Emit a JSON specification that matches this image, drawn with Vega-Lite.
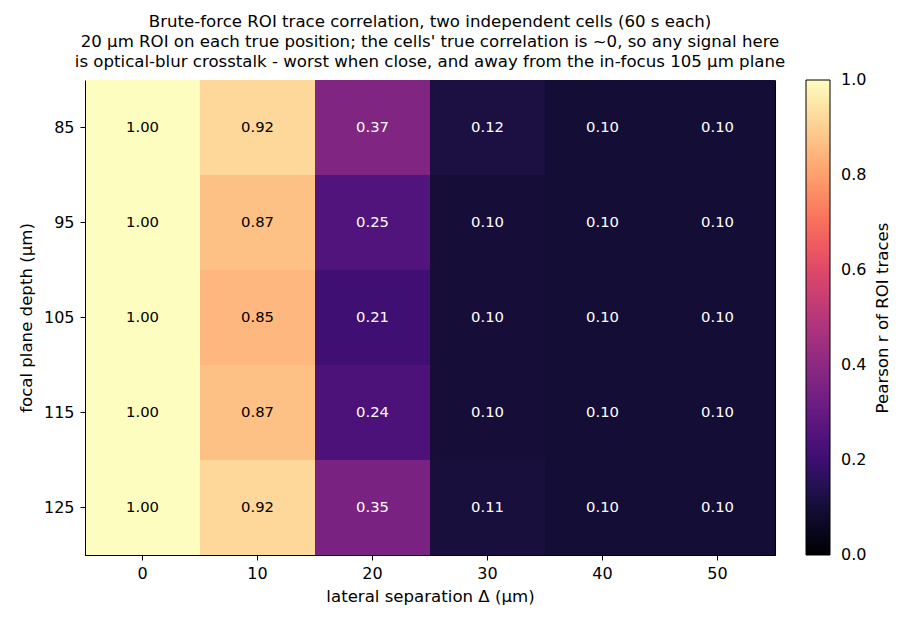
{
  "$schema": "https://vega.github.io/schema/vega-lite/v6.json",
  "width": 690,
  "height": 475,
  "autosize": {"type": "none"},
  "padding": {"left": 85, "top": 80, "right": 137, "bottom": 69},
  "background": "white",
  "config": {
    "font": "DejaVu Sans",
    "view": {"stroke": "black", "strokeWidth": 1},
    "axis": {
      "labelFont": "DejaVu Sans", "titleFont": "DejaVu Sans",
      "labelFontSize": 16, "titleFontSize": 16.6, "titleFontWeight": "normal",
      "labelColor": "black", "titleColor": "black",
      "domainColor": "black", "tickColor": "black", "tickSize": 5, "grid": false
    }
  },
  "title": {
    "text": [
      "Brute-force ROI trace correlation, two independent cells (60 s each)",
      "20 µm ROI on each true position; the cells' true correlation is ~0, so any signal here",
      "is optical-blur crosstalk - worst when close, and away from the in-focus 105 µm plane"
    ],
    "font": "DejaVu Sans",
    "fontSize": 16.6,
    "fontWeight": "normal",
    "color": "black",
    "lineHeight": 20,
    "anchor": "middle",
    "offset": 9
  },
  "data": {
    "values": [
      {"dx": 0, "depth": 85, "r": 1.00}, {"dx": 10, "depth": 85, "r": 0.92}, {"dx": 20, "depth": 85, "r": 0.37}, {"dx": 30, "depth": 85, "r": 0.12}, {"dx": 40, "depth": 85, "r": 0.098}, {"dx": 50, "depth": 85, "r": 0.098},
      {"dx": 0, "depth": 95, "r": 1.00}, {"dx": 10, "depth": 95, "r": 0.87}, {"dx": 20, "depth": 95, "r": 0.25}, {"dx": 30, "depth": 95, "r": 0.104}, {"dx": 40, "depth": 95, "r": 0.098}, {"dx": 50, "depth": 95, "r": 0.098},
      {"dx": 0, "depth": 105, "r": 1.00}, {"dx": 10, "depth": 105, "r": 0.85}, {"dx": 20, "depth": 105, "r": 0.21}, {"dx": 30, "depth": 105, "r": 0.104}, {"dx": 40, "depth": 105, "r": 0.098}, {"dx": 50, "depth": 105, "r": 0.098},
      {"dx": 0, "depth": 115, "r": 1.00}, {"dx": 10, "depth": 115, "r": 0.87}, {"dx": 20, "depth": 115, "r": 0.24}, {"dx": 30, "depth": 115, "r": 0.104}, {"dx": 40, "depth": 115, "r": 0.098}, {"dx": 50, "depth": 115, "r": 0.098},
      {"dx": 0, "depth": 125, "r": 1.00}, {"dx": 10, "depth": 125, "r": 0.92}, {"dx": 20, "depth": 125, "r": 0.35}, {"dx": 30, "depth": 125, "r": 0.11}, {"dx": 40, "depth": 125, "r": 0.098}, {"dx": 50, "depth": 125, "r": 0.098}
    ]
  },
  "encoding": {
    "x": {
      "field": "dx", "type": "ordinal",
      "scale": {"paddingInner": 0, "paddingOuter": 0},
      "axis": {"title": "lateral separation Δ (µm)", "labelAngle": 0, "labelPadding": 5, "titlePadding": 7}
    }
  },
  "layer": [
    {
      "mark": {"type": "rect"},
      "encoding": {
        "y": {
          "field": "depth", "type": "ordinal",
          "scale": {"paddingInner": 0, "paddingOuter": 0},
          "axis": {"title": "focal plane depth (µm)", "labelPadding": 6, "titlePadding": 9}
        },
        "color": {
          "field": "r", "type": "quantitative",
          "scale": {"scheme": "magma", "domain": [0, 1]},
          "legend": {
            "title": null,
            "type": "gradient",
            "orient": "none",
            "legendX": 721,
            "legendY": 0,
            "padding": 0,
            "gradientLength": 475,
            "gradientThickness": 24,
            "gradientStrokeColor": "black",
            "gradientStrokeWidth": 1,
            "values": [0, 0.2, 0.4, 0.6, 0.8, 1.0],
            "format": ".1f",
            "labelFont": "DejaVu Sans",
            "labelFontSize": 16,
            "labelColor": "black",
            "labelOffset": 11,
            "labelOverlap": false,
            "encode": {"labels": {"update": {"baseline": {"value": "middle"}}}}
          }
        }
      }
    },
    {
      "mark": {"type": "rect"},
      "encoding": {
        "y": {
          "field": "depth", "type": "ordinal",
          "scale": {"paddingInner": 0, "paddingOuter": 0},
          "axis": null
        },
        "color": {"field": "r", "type": "quantitative"}
      }
    },
    {
      "mark": {"type": "text", "font": "DejaVu Sans", "fontSize": 14.8},
      "encoding": {
        "y": {
          "field": "depth", "type": "ordinal",
          "scale": {"paddingInner": 0, "paddingOuter": 0},
          "axis": {
            "orient": "right", "title": "Pearson r of ROI traces",
            "labels": false, "ticks": false, "domain": false,
            "titleAngle": -90, "titlePadding": 115
          }
        },
        "text": {"field": "r", "type": "quantitative", "format": ".2f"},
        "color": {
          "condition": {"test": "datum.r < 0.5", "value": "white"},
          "value": "black"
        }
      }
    }
  ],
  "resolve": {"scale": {"y": "independent"}}
}
